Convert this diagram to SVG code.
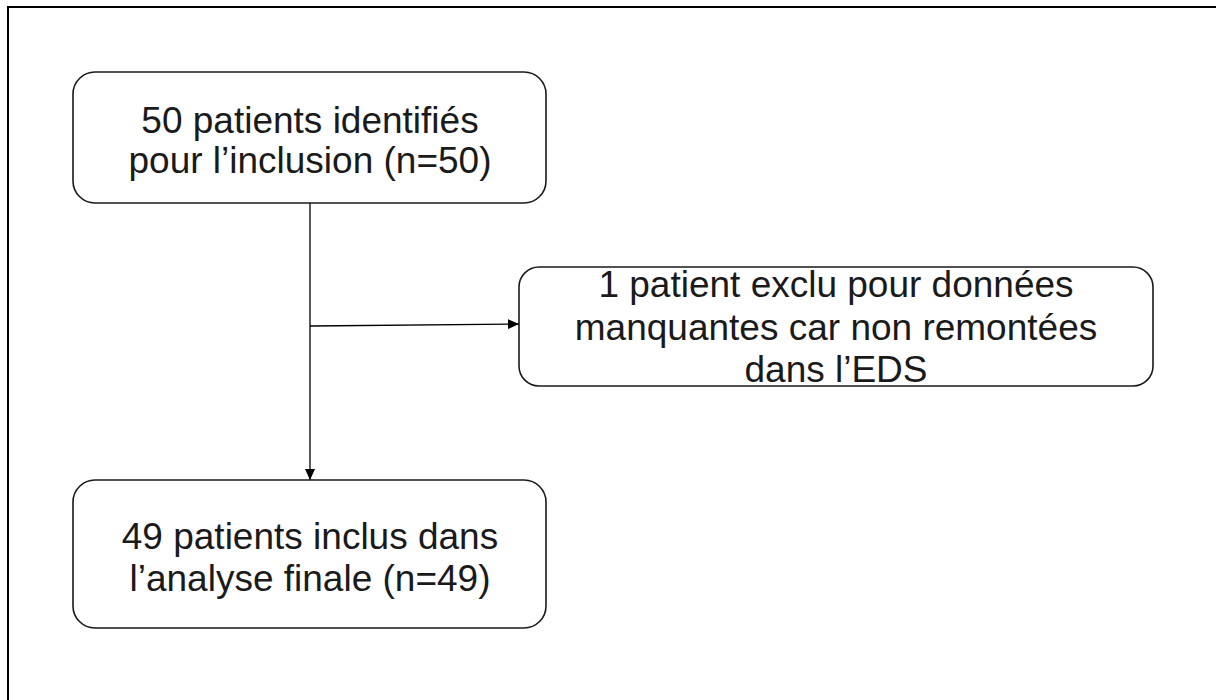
<svg xmlns="http://www.w3.org/2000/svg" width="1216" height="700" viewBox="0 0 1216 700">
<style>
.box{fill:#fff;stroke:#1a1a1a;stroke-width:1.6}
.t{font-family:"Liberation Sans",Arial,sans-serif;font-size:37px;fill:#1a1a1a;text-anchor:middle}
.c{fill:none;stroke:#000;stroke-width:1.3}
</style>
<defs>
<marker id="ah" viewBox="0 0 11 10" refX="11" refY="5" markerWidth="11" markerHeight="10" markerUnits="userSpaceOnUse" orient="auto">
<path d="M0,0 L11,5 L0,10 Z" fill="#000"/>
</marker>
</defs>
<rect width="1216" height="700" fill="#fff"/>
<path d="M8,700 V7 H1216" fill="none" stroke="#000" stroke-width="2"/>
<g id="connectors">
<line class="c" x1="310" y1="203" x2="310" y2="480" marker-end="url(#ah)"/>
<line class="c" x1="310" y1="326" x2="519" y2="324" marker-end="url(#ah)"/>
</g>
<g id="node-identified">
<rect class="box" x="73" y="72" width="473" height="131" rx="22"/>
<text class="t" x="310" y="133">50 patients identifiés</text>
<text class="t" x="310" y="173">pour l’inclusion (n=50)</text>
</g>
<g id="node-excluded">
<rect class="box" x="519" y="267" width="634" height="119" rx="20"/>
<text class="t" x="836" y="297">1 patient exclu pour données</text>
<text class="t" x="836" y="340">manquantes car non remontées</text>
<text class="t" x="836" y="382">dans l’EDS</text>
</g>
<g id="node-included">
<rect class="box" x="73" y="480" width="473" height="148" rx="22"/>
<text class="t" x="310" y="549">49 patients inclus dans</text>
<text class="t" x="310" y="591">l’analyse finale (n=49)</text>
</g>
</svg>
